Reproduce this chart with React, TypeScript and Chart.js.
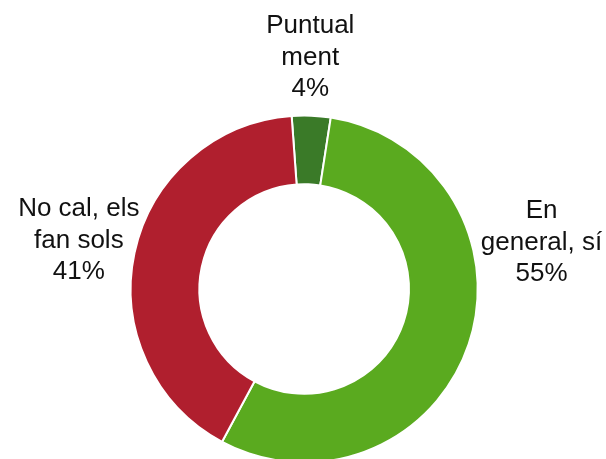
import React, { useEffect, useRef } from 'react';
import { Chart, registerables } from 'chart.js';

Chart.register(...registerables);

const categories = ['Puntualment', 'En general, sí', 'No cal, els fan sols'];
const labelLines = [['Puntual', 'ment'], ['En', 'general, sí'], ['No cal, els', 'fan sols']];
const values = [3.6, 55.4, 41.0];
const colors = ['#3A7A28', '#5AAA1F', '#B01F2E'];
// label block anchor (middle-line baseline), in units of outer radius from the centre
const labelOffsets = [
  [0.035, -1.293],
  [1.368, -0.226],
  [-1.299, -0.238],
];

const FONT = '26px "Liberation Sans", Arial, sans-serif';
const LINE = 31.5;

const labelPlugin = {
  id: 'sliceLabels',
  afterDatasetsDraw(chart: any) {
    const meta = chart.getDatasetMeta(0);
    const ctx = chart.ctx;
    const total = values.reduce((a, b) => a + b, 0);
    ctx.save();
    ctx.font = FONT;
    ctx.fillStyle = '#111111';
    ctx.textAlign = 'center';
    ctx.textBaseline = 'alphabetic';
    meta.data.forEach((arc: any, i: number) => {
      const R = arc.outerRadius;
      const cx = arc.x + labelOffsets[i][0] * R;
      const cy = arc.y + labelOffsets[i][1] * R;
      const lines = [...labelLines[i], Math.round((values[i] / total) * 100) + '%'];
      lines.forEach((t, k) => {
        ctx.fillText(t, cx, cy + (k - 1) * LINE);
      });
    });
    ctx.restore();
  },
};

export default function App() {
  const ref = useRef<HTMLCanvasElement | null>(null);
  useEffect(() => {
    if (!ref.current) return;
    const chart = new Chart(ref.current, {
      type: 'doughnut',
      data: {
        labels: categories,
        datasets: [
          {
            data: values,
            backgroundColor: colors,
            borderColor: '#FFFFFF',
            borderWidth: 2,
          },
        ],
      },
      options: {
        responsive: false,
        animation: false,
        rotation: -4.15,
        cutout: '60.4%',
        layout: { padding: { top: 114.5, bottom: 6.5, left: 2.4, right: 0 } },
        plugins: {
          legend: { display: false },
          tooltip: { enabled: false },
        },
      },
      plugins: [labelPlugin],
    });
    return () => chart.destroy();
  }, []);
  return (
    <div
      style={{
        position: 'absolute',
        left: 0,
        top: 0,
        width: 606,
        height: 459,
        overflow: 'hidden',
        background: '#fff',
      }}
    >
      <canvas ref={ref} width={606} height={470} style={{ display: 'block' }} />
    </div>
  );
}
